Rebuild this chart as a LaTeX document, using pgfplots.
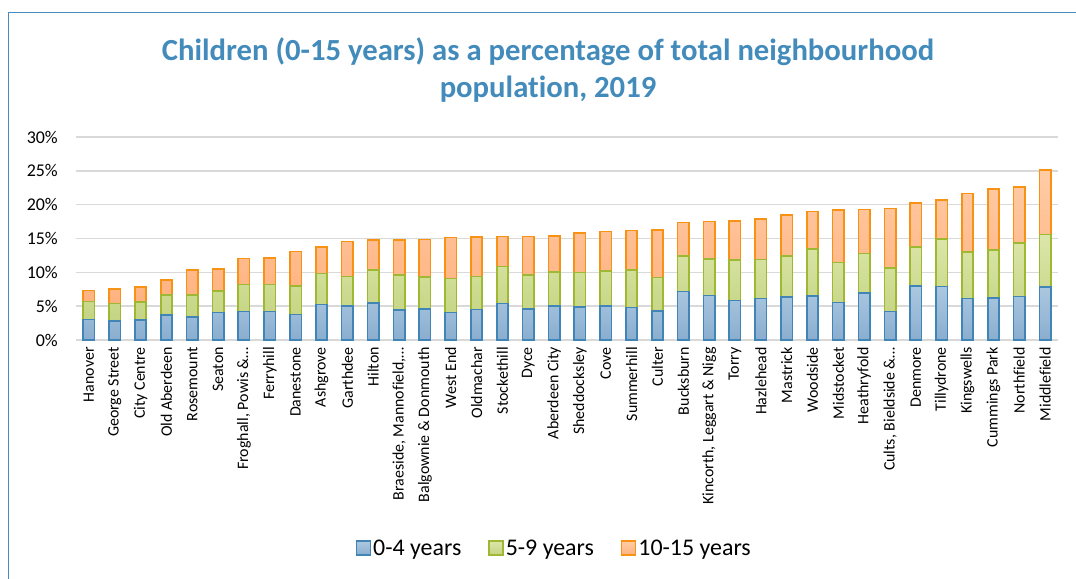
\documentclass[border=0pt]{standalone}
\usepackage{pgfplots}
\pgfplotsset{compat=1.18}
\usepackage{pgfplotstable}
\usepackage{fontspec}
\setmainfont{Carlito}[Ligatures=NoCommon]
\definecolor{titleblue}{RGB}{66,139,187}
\definecolor{frameblue}{RGB}{74,139,191}
\definecolor{bluetop}{RGB}{172,200,224}
\definecolor{bluebot}{RGB}{138,174,208}
\definecolor{blueedge}{RGB}{65,132,182}
\definecolor{greentop}{RGB}{220,230,170}
\definecolor{greenbot}{RGB}{196,212,130}
\definecolor{greenedge}{RGB}{158,184,50}
\definecolor{orangetop}{RGB}{255,204,166}
\definecolor{orangebot}{RGB}{255,178,128}
\definecolor{orangeedge}{RGB}{247,146,20}
\definecolor{gridgray}{RGB}{217,217,217}

\pgfplotstableread{
x b g o
0 3.06 2.62 1.63
1 2.82 2.57 2.12
2 2.92 2.71 2.23
3 3.66 2.96 2.22
4 3.36 3.31 3.66
5 4.05 3.16 3.26
6 4.20 4.00 3.86
7 4.20 4.00 3.95
8 3.75 4.25 5.09
9 5.24 4.59 3.90
10 4.99 4.40 5.18
11 5.43 4.90 4.49
12 4.45 5.18 5.19
13 4.55 4.74 5.58
14 4.05 5.04 6.03
15 4.50 4.89 5.83
16 5.39 5.48 4.40
17 4.55 5.08 5.64
18 4.99 5.09 5.33
19 4.84 5.14 5.83
20 4.99 5.24 5.83
21 4.79 5.59 5.83
22 4.25 4.99 7.01
23 7.16 5.29 4.94
24 6.57 5.43 5.49
25 5.83 6.03 5.73
26 6.13 5.78 5.98
27 6.37 6.08 5.98
28 6.47 7.02 5.53
29 5.53 5.93 7.71
30 6.97 5.83 6.47
31 4.20 6.42 8.80
32 8.00 5.78 6.48
33 7.90 7.02 5.73
34 6.13 6.86 8.65
35 6.23 7.11 8.99
36 6.42 7.91 8.25
37 7.86 7.75 9.54
}\data

\begin{document}
\begin{tikzpicture}
\useasboundingbox (0,0) rectangle (1076bp,-579bp);
\fill[white] (0,0) rectangle (1076bp,-579bp);
\draw[frameblue, line width=1.5bp] (8.5bp,-579bp) -- (8.5bp,-12.5bp) -- (1076bp,-12.5bp);
\node[anchor=base, text=titleblue, font=\fontsize{30.8}{34}\selectfont\bfseries, inner sep=0pt] at (548bp,-60bp) {Children (0-15 years) as a percentage of total neighbourhood};
\node[anchor=base, text=titleblue, font=\fontsize{30.8}{34}\selectfont\bfseries, inner sep=0pt] at (548bp,-97bp) {population, 2019};
\begin{axis}[
  at={(76bp,-340bp)}, anchor=south west,
  scale only axis, width=982bp, height=203bp,
  ybar stacked, bar width=0.44,
  xmin=-0.5, xmax=37.5, ymin=0, ymax=30,
  ytick={0,5,...,30},
  yticklabel={\pgfmathprintnumber{\tick}\%},
  xtick={0,...,37},
  xticklabels={Hanover,George Street,City Centre,Old Aberdeen,Rosemount,Seaton,{Froghall, Powis \&\ldots},Ferryhill,Danestone,Ashgrove,Garthdee,Hilton,{Braeside, Mannofield,\ldots},Balgownie \& Donmouth,West End,Oldmachar,Stockethill,Dyce,Aberdeen City,Sheddocksley,Cove,Summerhill,Culter,Bucksburn,{Kincorth, Leggart \& Nigg},Torry,Hazlehead,Mastrick,Woodside,Midstocket,Heathryfold,{Cults, Bieldside \&\ldots},Denmore,Tillydrone,Kingswells,Cummings Park,Northfield,Middlefield},
  x tick label style={rotate=90, anchor=east, font=\fontsize{16}{18}\selectfont, inner sep=0pt},
  xticklabel shift=7bp,
  y tick label style={font=\fontsize{18}{20}\selectfont, inner sep=0pt},
  yticklabel shift=18bp,
  ymajorgrids, major grid style={draw=gridgray, line width=1.5bp},
  axis line style={draw=none}, major tick length=0pt, tick style={draw=none},
  /pgf/number format/assume math mode=true,
  legend style={at={(0.487,-1.025)}, anchor=center, draw=none, legend columns=-1,
    font=\fontsize{24}{26}\selectfont,
    /tikz/every even column/.append style={column sep=25bp}},
  legend image code/.code={\draw[#1, line width=1.5bp] (0bp,-7bp) rectangle (14bp,7bp);},
]
\addplot[top color=bluetop, bottom color=bluebot, draw=blueedge, line width=1.6bp] table[x=x,y=b]{\data};
\addplot[top color=greentop, bottom color=greenbot, draw=greenedge, line width=1.6bp] table[x=x,y=g]{\data};
\addplot[top color=orangetop, bottom color=orangebot, draw=orangeedge, line width=1.6bp] table[x=x,y=o]{\data};
\legend{0-4 years,5-9 years,10-15 years}
\end{axis}
\end{tikzpicture}
\end{document}
